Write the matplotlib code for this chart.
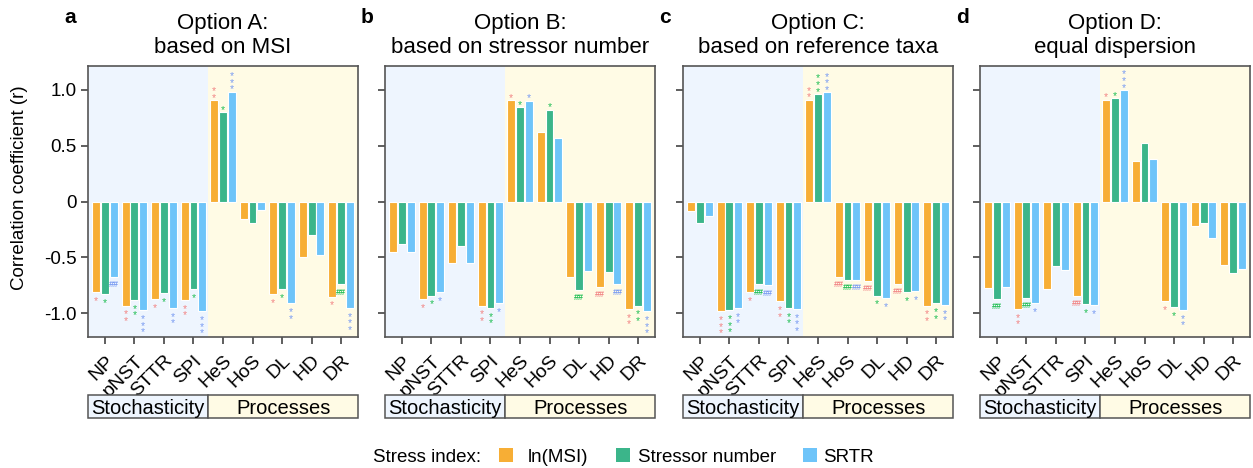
import matplotlib
matplotlib.use("Agg")
import matplotlib.pyplot as plt
from matplotlib.patches import Rectangle
import numpy as np

plt.rcParams['font.family'] = ['Liberation Sans', 'DejaVu Sans']

# ---------------- data ----------------
categories = ['NP', 'pNST', 'STTR', 'SPI', 'HeS', 'HoS', 'DL', 'HD', 'DR']
n_stoch = 4
group_labels = ['Stochasticity', 'Processes']
series_labels = ['ln(MSI)', 'Stressor number', 'SRTR']
panel_letters = ['a', 'b', 'c', 'd']
panel_titles = ['Option A:\nbased on MSI',
                'Option B:\nbased on stressor number',
                'Option C:\nbased on reference taxa',
                'Option D:\nequal dispersion']

a_msi  = [-0.81, -0.93, -0.87, -0.88, 0.905, -0.16, -0.83, -0.50, -0.85]
a_num  = [-0.83, -0.88, -0.82, -0.78, 0.80, -0.19, -0.78, -0.30, -0.74]
a_srtr = [-0.67, -0.97, -0.95, -0.98, 0.98, -0.08, -0.91, -0.48, -0.95]
a_sig_msi  = ['*', '**', '*', '**', '**', '', '*', '', '*']
a_sig_num  = ['*', '**', '*', '*', '*', '', '*', '', '##']
a_sig_srtr = ['##', '***', '**', '***', '***', '', '**', '', '***']

b_msi  = [-0.45, -0.87, -0.545, -0.93, 0.905, 0.62, -0.67, -0.765, -0.96]
b_num  = [-0.38, -0.84, -0.40, -0.95, 0.845, 0.82, -0.79, -0.63, -0.93]
b_srtr = [-0.45, -0.81, -0.55, -0.91, 0.90, 0.57, -0.62, -0.74, -0.98]
b_sig_msi  = ['', '*', '', '**', '*', '', '', '##', '**']
b_sig_num  = ['', '*', '', '**', '*', '*', '##', '', '**']
b_sig_srtr = ['', '*', '', '*', '*', '', '', '##', '***']

c_msi  = [-0.086, -0.98, -0.81, -0.89, 0.91, -0.67, -0.71, -0.735, -0.93]
c_num  = [-0.19, -0.97, -0.74, -0.95, 0.96, -0.70, -0.84, -0.81, -0.91]
c_srtr = [-0.13, -0.95, -0.75, -0.96, 0.976, -0.70, -0.86, -0.80, -0.925]
c_sig_msi  = ['', '***', '*', '**', '**', '##', '##', '##', '**']
c_sig_num  = ['', '***', '##', '**', '***', '##', '*', '*', '**']
c_sig_srtr = ['', '**', '##', '***', '***', '##', '*', '*', '**']

d_msi  = [-0.77, -0.96, -0.78, -0.845, 0.91, 0.363, -0.89, -0.217, -0.57]
d_num  = [-0.87, -0.86, -0.58, -0.917, 0.92, 0.518, -0.946, -0.19, -0.64]
d_srtr = [-0.765, -0.91, -0.616, -0.925, 0.997, 0.378, -0.967, -0.33, -0.607]
d_sig_msi  = ['', '**', '', '##', '*', '', '*', '', '']
d_sig_num  = ['##', '##', '', '*', '*', '', '*', '', '']
d_sig_srtr = ['', '*', '', '*', '***', '', '**', '', '']

panels = [
    ([a_msi, a_num, a_srtr], [a_sig_msi, a_sig_num, a_sig_srtr]),
    ([b_msi, b_num, b_srtr], [b_sig_msi, b_sig_num, b_sig_srtr]),
    ([c_msi, c_num, c_srtr], [c_sig_msi, c_sig_num, c_sig_srtr]),
    ([d_msi, d_num, d_srtr], [d_sig_msi, d_sig_num, d_sig_srtr]),
]

yticks = [-1.0, -0.5, 0, 0.5, 1.0]
ytick_labels = ['-1.0', '-0.5', '0', '0.5', '1.0']

# ---------------- style / layout ----------------
W, H = 1253, 468
fig = plt.figure(figsize=(W / 100, H / 100), dpi=100)


def fx(px):
    return px / W


def fy(py):
    return 1 - py / H


bar_colors = ['#F7AE35', '#3BB58A', '#6EC4F9']
sig_colors = ['#F28585', '#22BF55', '#7A9CF2']
bg_colors = ['#EEF5FE', '#FFFBE5']
frame_col = '#555555'

ax_lefts = [88, 385, 683, 980]
ax_w = 270
ax_top, ax_bot = 66, 337
XMIN, XMAX = -0.575, 8.575
offsets = [-0.3, 0.0, 0.3]
bar_w = 0.27
PT_PER_PX = 0.72
FS = 13.5


def put_sig(ax, xpos, val, sig, color):
    if not sig:
        return
    sign = 1 if val >= 0 else -1
    if sig.startswith('#'):
        fs = 6.5
        center_pt = sign * 7.0 * PT_PER_PX
        base = center_pt - 0.35 * fs
        ax.annotate(sig, xy=(xpos, val), xytext=(0, base),
                    textcoords='offset points', ha='center', va='baseline',
                    fontsize=fs, color=color, fontweight='bold',
                    annotation_clip=False, zorder=4)
    else:
        fs = 7.5
        n = len(sig)
        txt = '\n'.join(['*'] * n)
        if sign < 0:
            top = -(5.5 * PT_PER_PX - 0.16 * fs)
            ax.annotate(txt, xy=(xpos, val), xytext=(0, top),
                        textcoords='offset points', ha='center', va='top',
                        fontsize=fs, color=color, linespacing=0.58,
                        annotation_clip=False, zorder=4)
        else:
            bottom = 5.5 * PT_PER_PX - 0.795 * fs
            ax.annotate(txt, xy=(xpos, val), xytext=(0, bottom),
                        textcoords='offset points', ha='center', va='bottom',
                        fontsize=fs, color=color, linespacing=0.58,
                        annotation_clip=False, zorder=4)


x = np.arange(len(categories))

for p, (vals, sigs) in enumerate(panels):
    left = ax_lefts[p]
    ax = fig.add_axes([fx(left), fy(ax_bot), fx(ax_w), (ax_bot - ax_top) / H])
    ax.axvspan(XMIN, n_stoch - 0.5, color=bg_colors[0], lw=0, zorder=0)
    ax.axvspan(n_stoch - 0.5, XMAX, color=bg_colors[1], lw=0, zorder=0)
    for k in range(3):
        ax.bar(x + offsets[k], vals[k], width=bar_w, color=bar_colors[k],
               edgecolor='white', linewidth=0.8, zorder=2)
        for j in range(len(categories)):
            put_sig(ax, x[j] + offsets[k], vals[k][j], sigs[k][j], sig_colors[k])
    ax.set_xlim(XMIN, XMAX)
    ax.set_ylim(-1.21, 1.21)
    ax.set_yticks(yticks)
    ax.set_xticks(x)
    ax.set_xticklabels(categories, rotation=45, ha='right', va='top',
                       rotation_mode='anchor', fontsize=14)
    if p == 0:
        ax.set_yticklabels(ytick_labels, fontsize=FS)
    else:
        ax.tick_params(axis='y', labelleft=False)
    ax.tick_params(axis='both', direction='out', length=5, width=1.1,
                   color='#333333', labelcolor='black', pad=3)
    ax.tick_params(axis='x', pad=6)
    for s in ax.spines.values():
        s.set_color(frame_col)
        s.set_linewidth(1.2)

    fig.text(fx(left + ax_w / 2), fy(58), panel_titles[p], ha='center',
             va='bottom', fontsize=16, linespacing=1.2)
    fig.text(fx(left - 18), fy(23), panel_letters[p], ha='center',
             va='baseline', fontsize=15, fontweight='bold')

    sax = fig.add_axes([fx(left), fy(418), fx(ax_w), 23 / H])
    sax.set_xlim(XMIN, XMAX)
    sax.set_ylim(0, 1)
    sax.axis('off')
    spans = [(XMIN, n_stoch - 0.5), (n_stoch - 0.5, XMAX)]
    for g, (x0, x1) in enumerate(spans):
        sax.add_patch(Rectangle((x0, 0), x1 - x0, 1, facecolor=bg_colors[g],
                                edgecolor=frame_col, linewidth=1.1,
                                clip_on=False))
        sax.text((x0 + x1) / 2, 0.42, group_labels[g], ha='center',
                 va='center', fontsize=14.5)

fig.text(fx(20), fy(188), 'Correlation coefficient (r)', rotation=90,
         ha='center', va='center', fontsize=FS)

fig.text(fx(481), fy(462), 'Stress index:', ha='right', va='baseline',
         fontsize=FS)
sq_x = [499, 616, 803]
txt_x = [528, 638, 823]
for k in range(3):
    fig.patches.append(Rectangle((fx(sq_x[k]), fy(462)), fx(14), 14 / H,
                                 transform=fig.transFigure,
                                 facecolor=bar_colors[k], edgecolor='none'))
    fig.text(fx(txt_x[k]), fy(462), series_labels[k], ha='left',
             va='baseline', fontsize=FS)

fig.savefig('out.png', dpi=100)
